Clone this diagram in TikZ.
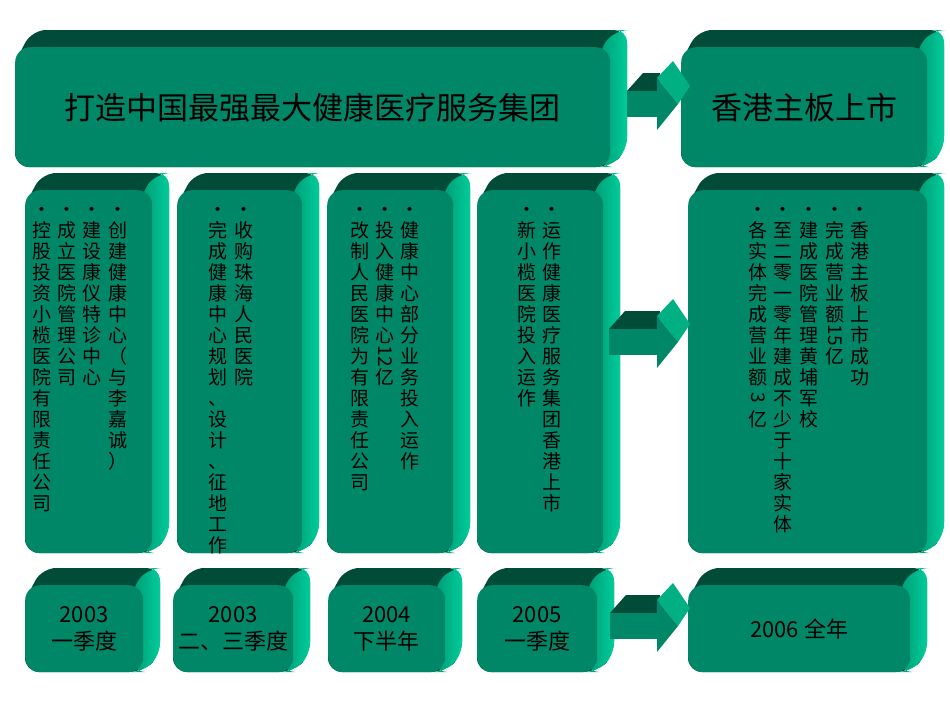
\documentclass[tikz,border=0pt]{standalone}
\usepackage{fontspec}
\setmainfont{Noto Sans CJK SC}

\definecolor{frontgreen}{RGB}{0,135,104}
\definecolor{topgreen}{RGB}{0,76,56}
\definecolor{sidegreen}{RGB}{0,204,153}
\definecolor{headgreen}{RGB}{0,176,130}

\newcommand\titlefont{\fontsize{31}{36}\selectfont}
\newcommand\yearfont{\fontsize{22}{27}\selectfont}

% digits lie on their side in a vertical column
\newcommand\rotnum[1]{\rotatebox[origin=c]{-90}{#1}}
% one character per line, bullet first
\def\vtxtend{\vtxtend}
\def\vtxtloop#1{\ifx\vtxtend#1\else\hbox to 21pt{\hss#1\hss}\expandafter\vtxtloop\fi}
\newcommand\vtxt[1]{\vtop{\baselineskip=21pt\hbox to 21pt{\hss•\hss}\vtxtloop#1\vtxtend}}

\tikzset{
    front/.style={fill=frontgreen, rounded corners=15, inner sep=0pt, anchor=north west, align=center},
    topface/.style={fill=topgreen, rounded corners=14},
    sideface/.style={left color=frontgreen!70!sidegreen, right color=sidegreen, rounded corners=12},
    column/.style={anchor=base, inner sep=0pt, font=\fontsize{19}{21}\selectfont},
}

% block with top and side faces: [style]{name}{x1}{y1}{x2}{y2}{text}
\newcommand\slab[7][]{%
    \fill[topface] (#3,#4+15) -- (#3+17,#4-17) -- (#5+17,#4-17) -- (#5+17,#6-17) -- (#5,#6) -- (#3,#6) -- cycle;
    \shade[sideface] (#5-10,#4) -- (#5+7,#4-17) -- (#5+17,#4-17) -- (#5+17,#6-17) -- (#5,#6) -- (#5-10,#6) -- cycle;
    \node[front, #1, minimum width=#5-#3, minimum height=#6-#4] (#2) at (#3,#4) {#7};
}
% flat arrow: {x start}{y middle}
\newcommand\flatarrow[2]{%
    \fill[fill=topgreen] (#1,#2-13) -- (#1+16,#2-31) -- (660,#2-31) -- (658,#2-13) -- cycle;
    \fill[frontgreen] (#1,#2-13) rectangle (658,#2+13);
    \fill[headgreen] (657,#2-26) -- (673,#2-43) -- (690,#2-18) -- (678,#2) -- cycle;
    \fill[frontgreen] (657,#2-26) -- (678,#2) -- (657,#2+26) -- cycle;
}

\begin{document}
\begin{tikzpicture}[x=1pt, y=-1pt]
    \useasboundingbox (0,0) rectangle (950,713);

    % top row
    \slab[font=\titlefont]{goal}{15}{47}{610}{167}{打造中国最强最大健康医疗服务集团}
    \slab[font=\titlefont]{listing}{681}{47}{927}{167}{香港主板上市}
    \flatarrow{627}{104}

    % middle row
    \slab{plan1}{25}{190}{152}{553}{}
    \slab{plan2}{177}{190}{302}{553}{}
    \slab{plan3}{327}{190}{453}{553}{}
    \slab{plan4}{477}{190}{603}{553}{}
    \slab{plan5}{688}{190}{927}{553}{}
    \flatarrow{609}{342}

    \foreach \x/\txt [count=\i] in {
        118/创建健康中心（与李嘉诚）, 92/建设康仪特诊中心, 67/成立医院管理公司, 42/控股投资小榄医院有限责任公司,
        244/收购珠海人民医院, 218/完成健康中心规划、设计、征地工作,
        410/健康中心部分业务投入运作, 385/投入健康中心{\rotnum{12}}亿, 360/改制人民医院为有限责任公司,
        552/运作健康医疗服务集团香港上市, 527/新小榄医院投入运作,
        860/香港主板上市成功, 835/完成营业额{\rotnum{15}}亿, 809/建成医院管理黄埔军校,
        783/至二零一零年建成不少于十家实体, 758/各实体完成营业额{\rotnum{3}}亿}
        \node[column] (line\i) at (\x,216) {\expandafter\vtxt\expandafter{\txt}};

    % bottom row
    \slab[font=\yearfont]{year1}{25}{585}{143}{672}{2003\\一季度}
    \slab[font=\yearfont]{year2}{173}{585}{293}{672}{2003\\二、三季度}
    \slab[font=\yearfont]{year3}{328}{585}{445}{672}{2004\\下半年}
    \slab[font=\yearfont]{year4}{477}{585}{597}{672}{2005\\一季度}
    \slab[font=\yearfont]{year5}{688}{585}{910}{672}{2006 全年}
    \flatarrow{610}{626}
\end{tikzpicture}
\end{document}
